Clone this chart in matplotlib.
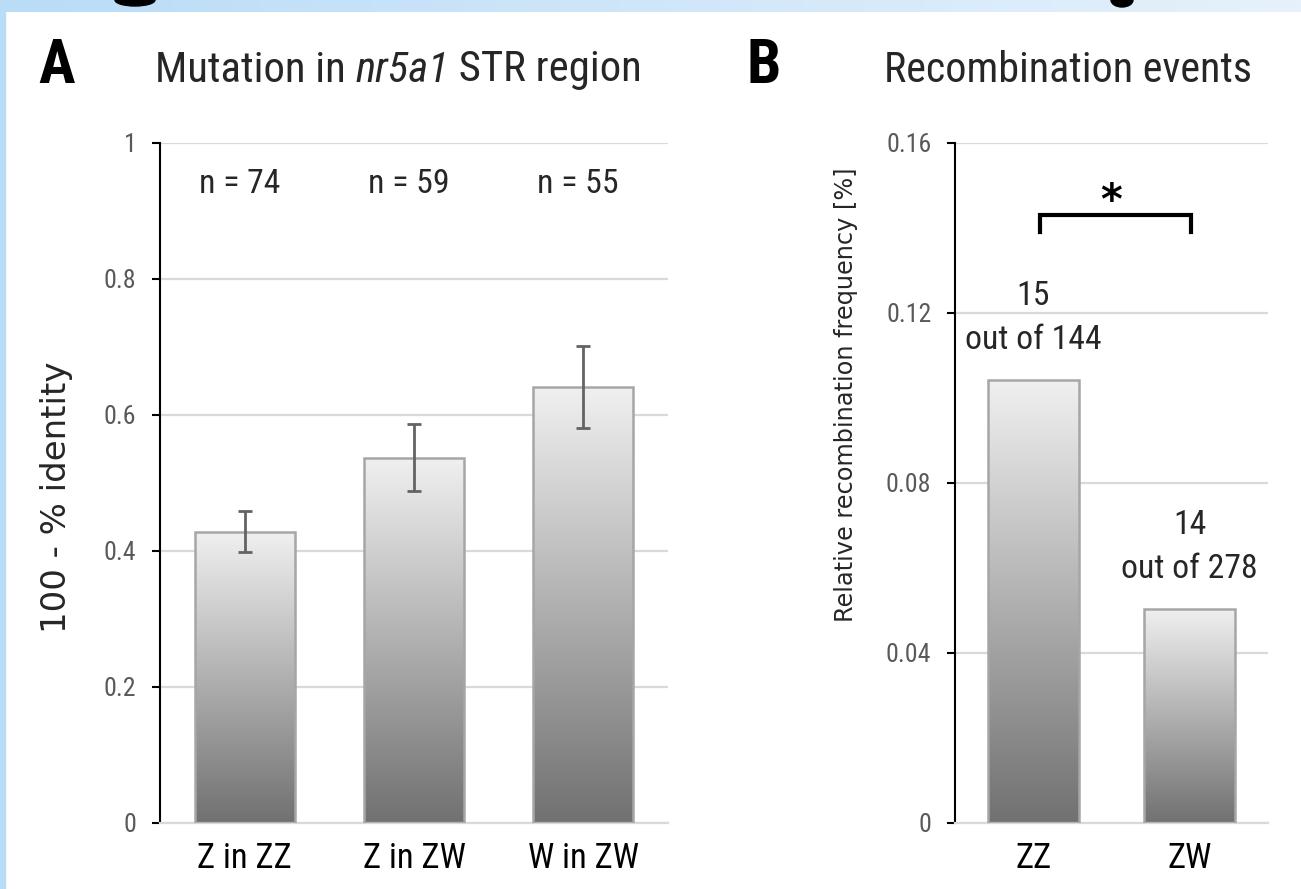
import matplotlib
matplotlib.use("Agg")
import matplotlib.pyplot as plt
import numpy as np
from matplotlib.patches import Rectangle, Ellipse
from matplotlib.font_manager import fontManager, FontProperties

# panel A data
groups_a = ["Z in ZZ", "Z in ZW", "W in ZW"]
identity = [0.428, 0.537, 0.641]
identity_err = [0.030, 0.049, 0.060]
n_labels = ["n = 74", "n = 59", "n = 55"]

# panel B data
groups_b = ["ZZ", "ZW"]
recomb = [0.1042, 0.0504]
counts = ["15\nout of 144", "14\nout of 278"]


# look for a narrow font (the original uses a Calibri-like face)
def wnum(w):
    if isinstance(w, str):
        return {"normal": 400, "regular": 400, "book": 400, "medium": 500,
                "bold": 700, "semibold": 600, "light": 300}.get(w.lower(), 400)
    return w


def pick(bold=False, italic=False):
    order = ["Liberation Sans Narrow", "Roboto Condensed", "Open Sans Condensed",
             "Noto Sans Condensed", "Noto Sans", "Open Sans", "DejaVu Sans Condensed", "DejaVu Sans"]
    best = None
    for f in fontManager.ttflist:
        narrow = (f.stretch in ("condensed", "semi-condensed", "extra-condensed")
                  or "Narrow" in f.name or "Condensed" in f.name)
        if not narrow or f.name not in order:
            continue
        if (f.style != "normal") != italic:
            continue
        w = wnum(f.weight)
        if bold != (w >= 600):
            continue
        score = order.index(f.name) * 1000 + abs(w - (700 if bold else 400))
        if best is None or score < best[0]:
            best = (score, f.fname)
    if best:
        return FontProperties(fname=best[1])
    return FontProperties(family="Roboto", weight="bold" if bold else "normal",
                          style="italic" if italic else "normal")


FP = pick()
FPI = pick(italic=True)
FPB = pick(bold=True)

W, H = 1301, 889
fig = plt.figure(figsize=(W / 100, H / 100), dpi=100)
fig.patch.set_facecolor("white")
fig.canvas.draw()
R = fig.canvas.get_renderer()


def fit(s, fp, target_px):
    # font size (pt) giving a text width of target_px
    p = fp.copy()
    p.set_size(20)
    w, h, d = R.get_text_width_height_descent(s, p, ismath=False)
    return 20 * target_px / w


def fp_at(fp, size):
    p = fp.copy()
    p.set_size(size)
    return p


# light blue frame bits from the source screenshot
grad = np.linspace(0, 1, 256).reshape(1, -1)
bg = fig.add_axes([0, 1 - 12 / H, 1, 12 / H])
bg.imshow(grad, aspect="auto", cmap=matplotlib.colors.LinearSegmentedColormap.from_list("b", ["#b9dcf7", "#e6f1fb"]),
          extent=[0, 1, 0, 1])
bg.axis("off")
fig.patches.append(Rectangle((0, 0), 5 / W, 1, transform=fig.transFigure, color="#b9dcf7", zorder=0))
fig.patches.append(Ellipse((135 / W, 1.0), 40 / W, 12 / H, transform=fig.transFigure, color="black", zorder=5))
fig.patches.append(Ellipse((1122 / W, 1.0), 22 / W, 14 / H, transform=fig.transFigure, color="black", zorder=5))

cmap = matplotlib.colors.LinearSegmentedColormap.from_list("g", ["#717171", "#f0f0f0"])
vgrad = np.linspace(0, 1, 256).reshape(-1, 1)

tick_fp = fp_at(FP, fit("0.16", FP, 45))
xlab_fp = fp_at(FP, fit("Z in ZZ", FP, 94))
note_fp = fp_at(FP, fit("out of 144", FP, 136))


def gradient_bars(ax, bars):
    for b in bars:
        x, y = b.get_x(), b.get_y()
        w, h = b.get_width(), b.get_height()
        im = ax.imshow(vgrad, cmap=cmap, origin="lower", aspect="auto",
                       extent=[x, x + w, y, y + h], zorder=2)
        im.set_clip_path(b)
        b.set_facecolor("none")
        b.set_edgecolor("#a6a6a6")
        b.set_linewidth(1.8)
        b.set_zorder(3)


def style(ax, ymax, yticks, fmt):
    ax.set_ylim(0, ymax)
    ax.set_yticks(yticks)
    ax.set_yticklabels([fmt(v) for v in yticks], fontproperties=tick_fp, color="#595959")
    ax.grid(axis="y", color="#d9d9d9", lw=1.6, zorder=0)
    ax.set_axisbelow(True)
    for s in ["top", "right"]:
        ax.spines[s].set_visible(False)
    ax.spines["bottom"].set_color("#d9d9d9")
    ax.spines["bottom"].set_linewidth(1.6)
    ax.spines["left"].set_linewidth(1.5)
    ax.tick_params(axis="y", length=6, width=1.5, pad=11)
    ax.tick_params(axis="x", length=0, pad=14)


# ---- panel A
axa = fig.add_axes([160 / W, 1 - 822.7 / H, 508 / W, 680 / H])
xa = np.arange(len(groups_a))
bars = axa.bar(xa, identity, width=0.59)
gradient_bars(axa, bars)
axa.errorbar(xa, identity, yerr=identity_err, fmt="none", ecolor="#636363",
             elinewidth=2, capsize=5, capthick=2, zorder=4)
axa.set_xlim(-0.5, 2.5)
style(axa, 1, [0, 0.2, 0.4, 0.6, 0.8, 1], lambda v: "0" if v == 0 else ("1" if v == 1 else f"{v:.1f}"))
axa.set_xticks(xa)
axa.set_xticklabels(groups_a, fontproperties=xlab_fp)
for x, t in zip(xa, n_labels):
    axa.text(x - 0.03, 0.94, t, ha="center", va="center", fontproperties=note_fp, color="#262626")
axa.set_ylabel("100 - % identity", fontsize=24.5, family="DejaVu Sans", color="#262626")
axa.yaxis.set_label_coords(-0.172, 0.478)

# ---- panel B
axb = fig.add_axes([955 / W, 1 - 822.7 / H, 313 / W, 680 / H])
xb = np.arange(len(groups_b))
bars = axb.bar(xb, recomb, width=0.58)
gradient_bars(axb, bars)
axb.set_xlim(-0.5, 1.5)
style(axb, 0.16, [0, 0.04, 0.08, 0.12, 0.16], lambda v: "0" if v == 0 else f"{v:.2f}")
axb.set_xticks(xb)
axb.set_xticklabels(groups_b, fontproperties=xlab_fp)
for x, v, t in zip(xb, recomb, counts):
    axb.text(x, v + 0.0055, t, ha="center", va="bottom", fontproperties=note_fp,
             color="#262626", linespacing=1.5)
axb.set_ylabel("Relative recombination frequency [%]", fontsize=17.3, family="DejaVu Sans",
               color="#262626")
axb.yaxis.set_label_coords(-0.31, 0.63)

# significance bracket
by, bl = 0.1430, 0.1390
axb.plot([0.04, 0.04, 1.01, 1.01], [bl, by, by, bl], color="black", lw=3, solid_joinstyle="miter",
         clip_on=False, zorder=5)
axb.text(0.50, 0.1460, "*", ha="center", va="center", fontsize=30, fontweight="bold",
         family="DejaVu Sans", color="black")

# panel letters and titles
fig.text(38 / W, 1 - 66 / H, "A", fontproperties=fp_at(FPB, 44), va="center", ha="left")
fig.text(747 / W, 1 - 66 / H, "B", fontproperties=fp_at(FPB, 44), va="center", ha="left")

tsize = fit("Mutation in nr5a1 STR region", FP, 488)
x0 = 155
for part, fp in [("Mutation in ", FP), ("nr5a1", FPI), (" STR region", FP)]:
    t = fig.text(x0 / W, 1 - 70 / H, part, fontproperties=fp_at(fp, tsize),
                 va="center", ha="left", color="#262626")
    x0 += t.get_window_extent(R).width
fig.text(884 / W, 1 - 70 / H, "Recombination events", fontproperties=fp_at(FP, fit("Recombination events", FP, 368)),
         va="center", ha="left", color="#262626")

fig.savefig("out.png", dpi=100, facecolor="white")
